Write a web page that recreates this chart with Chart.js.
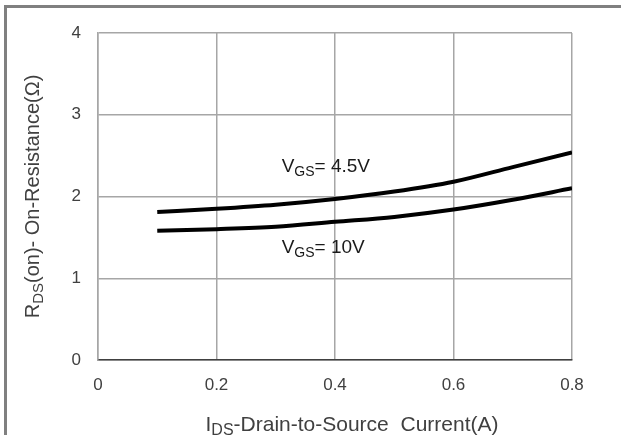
<!DOCTYPE html>
<html>
<head>
<meta charset="utf-8">
<script src="https://cdn.jsdelivr.net/npm/chart.js@4/dist/chart.umd.min.js"></script>
<style>
  html, body { margin: 0; padding: 0; background: #fff; }
  #wrap { width: 621px; height: 435px; position: relative; }
</style>
</head>
<body>
<div id="wrap"><canvas id="rdsChart" width="621" height="435"></canvas></div>
<script>
// drain current (A)
const currents = [0.1, 0.2, 0.3, 0.4, 0.5, 0.6, 0.7, 0.8];
// on-resistance (ohm) for each gate voltage
const rdsVgs45 = [1.81, 1.85, 1.90, 1.97, 2.06, 2.18, 2.36, 2.54];
const rdsVgs10 = [1.58, 1.60, 1.63, 1.69, 1.75, 1.84, 1.96, 2.10];
const xTicks = [0, 0.2, 0.4, 0.6, 0.8];
const yTicks = [0, 1, 2, 3, 4];

const FONT = 'Liberation Sans, Arial, sans-serif';
const TEXT = '#404040';

// draws text with a subscript part, parts = [[text, isSub], ...]
function drawRich(ctx, parts, x, y, size, align) {
    const subSize = Math.round(size * 0.75);
    let total = 0;
    parts.forEach(p => {
        ctx.font = (p[1] ? subSize : size) + 'px ' + FONT;
        total += ctx.measureText(p[0]).width;
    });
    let cx = align === 'center' ? x - total / 2 : x;
    ctx.textAlign = 'left';
    ctx.textBaseline = 'alphabetic';
    parts.forEach(p => {
        ctx.font = (p[1] ? subSize : size) + 'px ' + FONT;
        ctx.fillText(p[0], cx, p[1] ? y + 4 : y);
        cx += ctx.measureText(p[0]).width;
    });
}

const decorPlugin = {
    id: 'decor',
    beforeDraw(chart) {
        const ctx = chart.ctx;
        ctx.save();
        ctx.fillStyle = '#808080';
        ctx.fillRect(4, 5, 621, 3);   // frame top
        ctx.fillRect(4, 5, 3, 435);   // frame left
        ctx.restore();
    },
    afterDraw(chart) {
        const ctx = chart.ctx;
        const xs = chart.scales.x, ys = chart.scales.y;
        const area = chart.chartArea;
        ctx.save();
        ctx.fillStyle = TEXT;
        // x axis title
        drawRich(ctx, [['I', false], ['DS', true], ['-Drain-to-Source  Current(A)', false]],
            (area.left + area.right) / 2 + 17, 431, 21, 'center');
        // y axis title
        ctx.save();
        ctx.translate(39, (area.top + area.bottom) / 2);
        ctx.rotate(-Math.PI / 2);
        drawRich(ctx, [['R', false], ['DS', true], ['(on)- On-Resistance(\u03A9)', false]],
            0, 0, 20, 'center');
        ctx.restore();
        // curve labels
        ctx.fillStyle = '#1a1a1a';
        drawRich(ctx, [['V', false], ['GS', true], ['= 4.5V', false]],
            xs.getPixelForValue(0.31), ys.getPixelForValue(2.30), 19, 'left');
        drawRich(ctx, [['V', false], ['GS', true], ['= 10V', false]],
            xs.getPixelForValue(0.31), ys.getPixelForValue(1.31), 19, 'left');
        ctx.restore();
    }
};

new Chart(document.getElementById('rdsChart').getContext('2d'), {
    type: 'line',
    data: {
        datasets: [
            {
                label: 'VGS=4.5V',
                data: currents.map((c, i) => ({ x: c, y: rdsVgs45[i] })),
                borderColor: '#000',
                borderWidth: 4,
                pointRadius: 0,
                cubicInterpolationMode: 'monotone',
                fill: false
            },
            {
                label: 'VGS=10V',
                data: currents.map((c, i) => ({ x: c, y: rdsVgs10[i] })),
                borderColor: '#000',
                borderWidth: 4,
                pointRadius: 0,
                cubicInterpolationMode: 'monotone',
                fill: false
            }
        ]
    },
    options: {
        responsive: false,
        animation: false,
        layout: { padding: { left: 0, top: 33, right: 49, bottom: 0 } },
        scales: {
            x: {
                type: 'linear',
                min: 0,
                max: 0.8,
                afterBuildTicks: s => { s.ticks = xTicks.map(v => ({ value: v })); },
                afterFit: s => { s.height = 75; },
                ticks: {
                    color: TEXT,
                    padding: 15,
                    font: { size: 17, family: FONT },
                    callback: v => String(v)
                },
                grid: { color: '#a6a6a6', lineWidth: 1.5, drawTicks: false },
                border: { color: '#404040', width: 1.5 }
            },
            y: {
                min: 0,
                max: 4,
                afterBuildTicks: s => { s.ticks = yTicks.map(v => ({ value: v })); },
                afterFit: s => { s.width = 98; },
                ticks: {
                    color: TEXT,
                    padding: 17,
                    font: { size: 17, family: FONT }
                },
                grid: { color: '#a6a6a6', lineWidth: 1.5, drawTicks: false },
                border: { color: '#a6a6a6', width: 1.5 }
            }
        },
        plugins: {
            legend: { display: false },
            tooltip: { enabled: false }
        }
    },
    plugins: [decorPlugin]
});
</script>
</body>
</html>
